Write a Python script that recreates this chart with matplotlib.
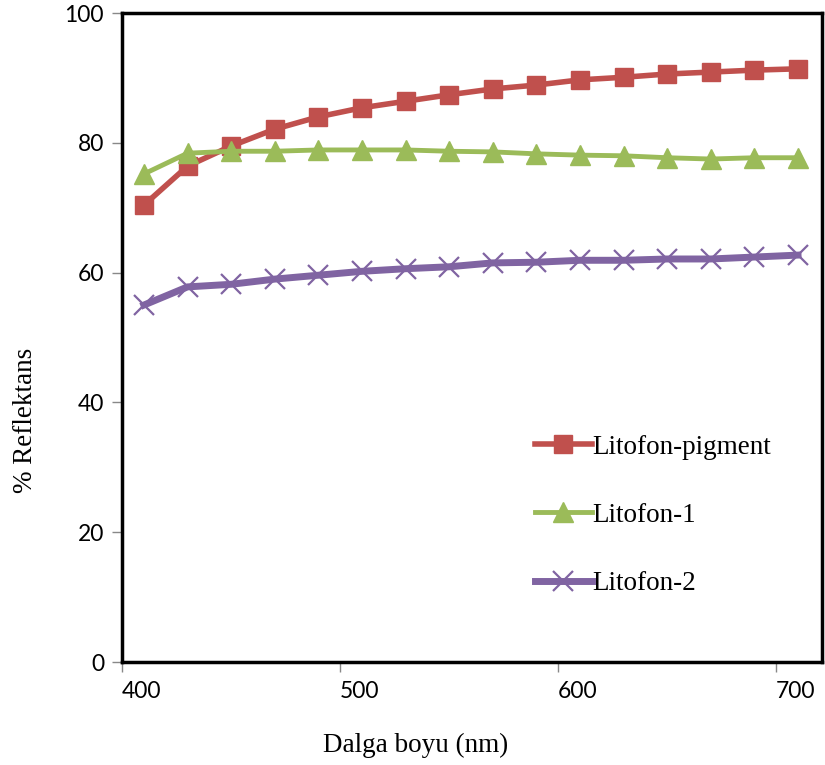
import matplotlib.pyplot as plt

# ===============================================
# Reflectance spectra of lithopone samples
# ===============================================

wavelength = [410, 430, 450, 470, 490, 510, 530, 550, 570, 590, 610, 630, 650, 670, 690, 710]

litofon_pigment = [70.4, 76.4, 79.5, 82.1, 84.0, 85.4, 86.4, 87.4,
                   88.3, 88.9, 89.7, 90.1, 90.6, 90.9, 91.2, 91.4]
litofon_1 = [75.2, 78.4, 78.7, 78.7, 78.9, 78.9, 78.9, 78.7,
             78.6, 78.3, 78.1, 78.0, 77.7, 77.5, 77.7, 77.7]
litofon_2 = [55.0, 57.8, 58.2, 59.0, 59.6, 60.2, 60.6, 60.9,
             61.5, 61.6, 61.9, 61.9, 62.1, 62.1, 62.4, 62.7]

x_ticks = [400, 500, 600, 700]
y_ticks = [0, 20, 40, 60, 80, 100]

serif = "Liberation Serif"
sans = "Lato"

fig = plt.figure(figsize=(8.25, 7.65), dpi=100)
ax = fig.add_axes([0.148, 0.1346, 0.8484, 0.8484])

ax.plot(wavelength, litofon_pigment, color="#C0504D", lw=4, marker="s",
        markersize=13.5, label="Litofon-pigment", clip_on=False, zorder=3)
ax.plot(wavelength, litofon_1, color="#9BBB59", lw=3.5, marker="^",
        markersize=15, label="Litofon-1", clip_on=False, zorder=3)
ax.plot(wavelength, litofon_2, color="#8064A2", lw=5, marker="x",
        markersize=14, markeredgewidth=1.6, label="Litofon-2", clip_on=False, zorder=3)

ax.set_xlim(400, 721)
ax.set_ylim(0, 100)
ax.set_xticks(x_ticks)
ax.set_yticks(y_ticks)
ax.set_xticklabels([str(v) for v in x_ticks], fontfamily=sans, fontsize=16.5, ha="left")
ax.set_yticklabels([str(v) for v in y_ticks], fontfamily=sans, fontsize=16.5)
ax.tick_params(axis="both", direction="out", length=7, width=1, color="#888888")
ax.tick_params(axis="x", pad=7)
ax.tick_params(axis="y", pad=6)

for side in ["left", "right", "top", "bottom"]:
    ax.spines[side].set_linewidth(2.5)
    ax.spines[side].set_color("black")

ax.set_xlabel("Dalga boyu (nm)", fontfamily=serif, fontsize=19.5, ha="center", va="center")
ax.set_ylabel("% Reflektans", fontfamily=serif, fontsize=19.5, ha="center", va="center")
ax.xaxis.set_label_coords(0.42, -0.128)
ax.yaxis.set_label_coords(-0.138, 0.373)

ax.legend(loc="center left", bbox_to_anchor=(0.59, 0.226), frameon=False,
          prop={"family": serif, "size": 19.5}, handlelength=2.1,
          handletextpad=0.0, labelspacing=1.6, borderpad=0, borderaxespad=0)

plt.savefig("out.png", dpi=100)
plt.close()
